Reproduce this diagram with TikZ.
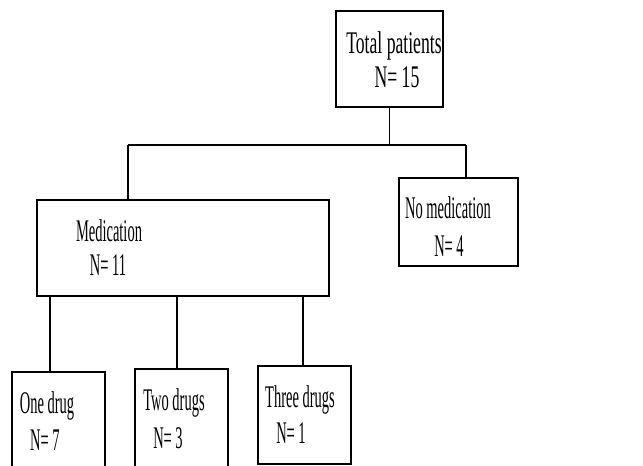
\documentclass[tikz,border=0pt]{standalone}
\usepackage{fontspec}
\setmainfont{Liberation Serif}[FakeStretch=0.46]
\newfontfamily\widefont{Liberation Serif}[FakeStretch=0.56]
\begin{document}
\begin{tikzpicture}[x=1pt,y=-1pt,
  box/.style={draw,line width=1.4pt,rectangle,inner sep=0pt},
  lbl/.style={inner sep=0pt,anchor=base,font=\fontsize{31.5}{31.5}\selectfont},
  wlbl/.style={inner sep=0pt,anchor=base,font=\widefont\fontsize{31.5}{31.5}\selectfont},
  conn/.style={line width=1.3pt}]
\clip (0,0) rectangle (643,466);
\fill[white] (0,0) rectangle (643,466);
% boxes
\node[box,minimum width=107pt,minimum height=96pt] (top) at (389.5,59) {};
\node[box,minimum width=292pt,minimum height=96pt] (med) at (183,248) {};
\node[box,minimum width=119pt,minimum height=88pt] (nomed) at (458.5,222) {};
\node[box,minimum width=93pt,minimum height=106pt] (one) at (58.5,425) {};
\node[box,minimum width=93pt,minimum height=106pt] (two) at (181.5,422) {};
\node[box,minimum width=93pt,minimum height=98pt] (three) at (304.5,415) {};
% texts
\node[wlbl] (t1) at (394,53) {Total patients};
\node[wlbl] (t2) at (397,87) {N= 15};
\node[lbl] (m1) at (109,241) {Medication};
\node[lbl] (m2) at (108,275) {N= 11};
\node[lbl] (n1) at (448,218) {No medication};
\node[lbl] (n2) at (449,256) {N= 4};
\node[lbl] (o1) at (47,413) {One drug};
\node[lbl] (o2) at (45,450) {N= 7};
\node[lbl] (w1) at (174,410) {Two drugs};
\node[lbl] (w2) at (168,448) {N= 3};
\node[lbl] (h1) at (300,407) {Three drugs};
\node[lbl] (h2) at (291,443) {N= 1};
% connectors
\coordinate (busL) at (128,145);
\coordinate (busR) at (466,145);
\coordinate (s1) at (50,0);
\coordinate (s2) at (177,0);
\coordinate (s3) at (303,0);
\draw[conn] (top.south) -- (top.south |- busL);
\draw[conn] (busL) -- (busR);
\draw[conn] (busL) -- (busL |- med.north);
\draw[conn] (busR) -- (busR |- nomed.north);
\draw[conn] (s1 |- med.south) -- (s1 |- one.north);
\draw[conn] (s2 |- med.south) -- (s2 |- two.north);
\draw[conn] (s3 |- med.south) -- (s3 |- three.north);
\end{tikzpicture}
\end{document}
